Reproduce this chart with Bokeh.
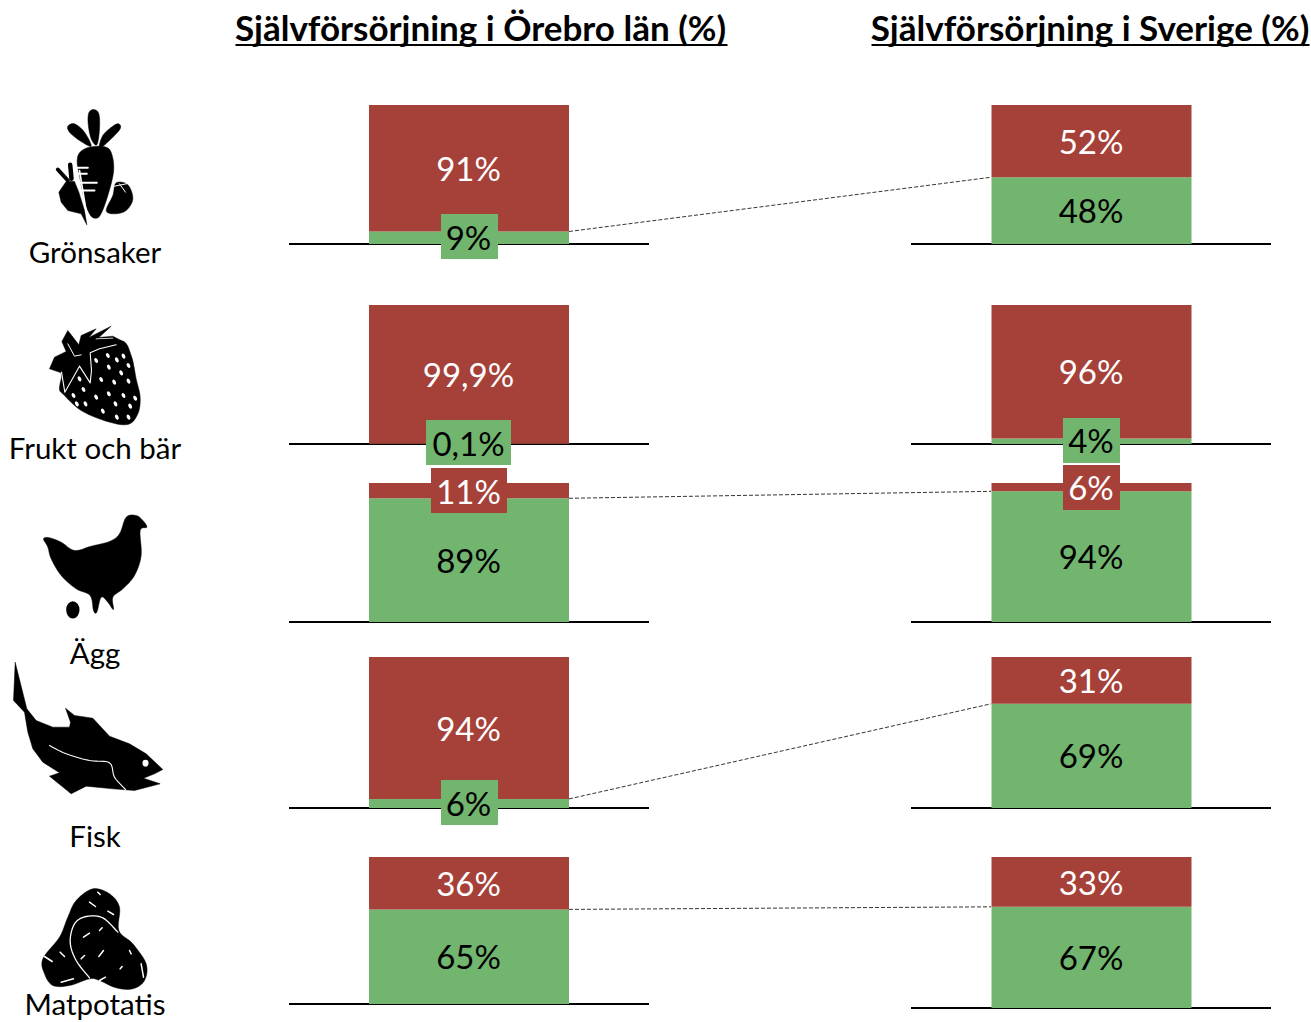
from bokeh.plotting import figure
from bokeh.models import Range1d, ColumnDataSource
from bokeh.core.properties import value
from bokeh.embed import file_html
from bokeh.resources import INLINE

# ---- data ----
categories = ["Grönsaker", "Frukt och bär", "Ägg", "Fisk", "Matpotatis"]
left_title = "Självförsörjning i Örebro län (%)"
right_title = "Självförsörjning i Sverige (%)"
left_green = [9, 0.1, 89, 6, 65]
left_red = [91, 99.9, 11, 94, 36]
right_green = [48, 4, 94, 69, 67]
right_red = [52, 96, 6, 31, 33]
left_green_labels = ["9%", "0,1%", "89%", "6%", "65%"]
left_red_labels = ["91%", "99,9%", "11%", "94%", "36%"]
right_green_labels = ["48%", "4%", "94%", "69%", "67%"]
right_red_labels = ["52%", "96%", "6%", "31%", "33%"]
connected_rows = [0, 2, 3, 4]

# ---- layout (page pixels) ----
W, H = 1311, 1022
X0, Y0 = 0, 0
X1, Y1 = X0 + W, Y0 + H
RED, GREEN = "#A6413A", "#71B56F"
FONT = value("Lato")
tops = [105, 305, 483, 657, 857]
left_bases = [244, 444, 622, 808, 1004]
right_bases = [244, 444, 622, 808, 1008]
left_green_y = [236, 442, 559, 802, 955]
left_red_y = [167, 373, 490, 727, 882]
right_green_y = [209, 439, 555, 754, 956]
right_red_y = [140, 370, 486, 679, 881]
left_boxes = {0: ("g", 441, 498, 214, 259), 1: ("g", 426, 511, 420, 465),
              2: ("r", 431, 507, 468, 513), 3: ("g", 441, 498, 780, 825)}
right_boxes = {1: ("g", 1063, 1120, 418, 463), 2: ("r", 1063, 1120, 465, 510)}
cat_y = [251, 447, 652, 835, 1003]

p = figure(width=W, height=H, output_backend="svg", toolbar_location=None,
           x_range=Range1d(X0, X1), y_range=Range1d(Y1, Y0), min_border=0)
p.xaxis.visible = False
p.yaxis.visible = False
p.grid.visible = False
p.outline_line_color = None
p.background_fill_color = "white"
p.border_fill_color = "white"


def crom(p0, p1, p2, p3, n):
    out = []
    for k in range(n):
        t = k / n
        f = lambda a, b, c, d: 0.5 * (2 * b + (c - a) * t + (2 * a - 5 * b + 4 * c - d) * t * t + (3 * b - a - 3 * c + d) * t ** 3)
        out.append((f(p0[0], p1[0], p2[0], p3[0]), f(p0[1], p1[1], p2[1], p3[1])))
    return out


def smooth(pts, n=6):
    out = []
    m = len(pts)
    for i in range(m):
        out += crom(pts[i - 1], pts[i], pts[(i + 1) % m], pts[(i + 2) % m], n)
    return out


def smooth_open(pts, n=6):
    q = [pts[0]] + list(pts) + [pts[-1]]
    out = []
    for i in range(1, len(q) - 2):
        out += crom(q[i - 1], q[i], q[i + 1], q[i + 2], n)
    return out + [pts[-1]]


def shape(pts, ox, oy, color="black", soft=False):
    q = smooth(pts) if soft else pts
    p.patch([ox + a / 3 for a, b in q], [oy + b / 3 for a, b in q], fill_color=color, line_color=color, line_width=0.5)


def stroke(pts, ox, oy, color="white", w=1.0, soft=False):
    q = smooth_open(pts) if soft else pts
    p.line([ox + a / 3 for a, b in q], [oy + b / 3 for a, b in q], line_color=color, line_width=w, line_cap="round", line_join="round")


def dot(x, y, rx, ry, ox, oy, color="white", angle=0.0):
    p.ellipse(ox + x / 3, oy + y / 3, width=2 * rx / 3, height=2 * ry / 3, angle=angle, fill_color=color, line_color=None)


# --- carrot icon
o = (-1, 95)
shape([(240, 172), (270, 155), (320, 155), (338, 180), (342, 230), (325, 300), (303, 358), (285, 368), (270, 355), (255, 315), (240, 240), (233, 200)], *o, soft=True)
shape([(283, 42), (298, 55), (300, 100), (292, 148), (275, 130), (266, 85), (268, 52)], *o, soft=True)
shape([(205, 92), (225, 85), (255, 110), (275, 152), (240, 135), (210, 110)], *o, soft=True)
shape([(358, 85), (362, 100), (335, 130), (300, 158), (310, 120), (340, 92)], *o, soft=True)
shape([(178, 290), (200, 258), (225, 258), (238, 290), (255, 345), (262, 388), (245, 355), (205, 345), (185, 320)], *o)
stroke([(175, 222), (205, 255)], *o, color="black", w=4)
stroke([(212, 208), (216, 250)], *o, color="black", w=4.5)
shape([(320, 345), (340, 300), (350, 262), (385, 268), (400, 310), (380, 345), (345, 355)], *o, soft=True)
stroke([(232, 217), (265, 217)], *o, w=2)
stroke([(236, 235), (262, 235)], *o, w=2)
stroke([(242, 262), (292, 262)], *o, w=2)
stroke([(248, 285), (285, 285)], *o, w=2)
stroke([(240, 225), (262, 360)], *o, w=1.6)
stroke([(360, 265), (378, 290)], *o, w=1)
stroke([(345, 272), (395, 262)], *o, w=1)

# --- strawberry icon
o = (-1, 315)
shape([(180, 215), (205, 150), (275, 100), (365, 75), (395, 120), (410, 190), (422, 245), (415, 295), (385, 327), (320, 317), (245, 285), (195, 240)], *o, soft=True)
shape([(150, 160), (165, 125), (200, 108), (187, 78), (205, 45), (238, 88), (245, 60), (290, 40), (268, 66), (335, 32), (298, 66), (340, 62), (365, 75), (330, 92), (272, 110), (275, 170), (272, 200), (240, 152), (192, 228), (185, 172)], *o)
stroke([(350, 88), (300, 100), (272, 112), (276, 165), (272, 202), (240, 152), (196, 230), (186, 170)], *o, w=1.1)
stroke([(205, 85), (225, 122), (245, 118)], *o, w=1)
stroke([(290, 70), (340, 68)], *o, w=0.8)
seeds_pos = [(290, 135), (325, 120), (352, 133), (372, 122), (387, 150), (328, 155), (365, 172), (305, 192), (344, 200), (387, 197), (252, 222), (290, 245), (328, 235), (372, 240), (407, 248), (222, 240), (232, 265), (258, 265), (348, 265), (392, 272), (310, 287), (352, 305), (387, 305), (240, 190)]
for x, y in seeds_pos:
    dot(x, y, 5, 8, *o, angle=0.5)

# --- hen icon
o = (19, 505)
shape([(72, 100), (90, 97), (125, 110), (165, 135), (215, 122), (270, 108), (300, 85), (320, 35), (350, 30), (370, 45), (382, 65), (362, 75), (365, 150), (345, 210), (310, 250), (280, 275), (282, 312), (265, 290), (245, 275), (232, 320), (222, 315), (212, 270), (170, 250), (125, 210), (95, 160), (85, 125)], *o, soft=True)
dot(160, 313, 20, 26, *o, color="black")

# --- fish icon
o = (-1, 655)
shape([(47, 20), (82, 160), (110, 195), (160, 215), (210, 215), (213, 200), (198, 158), (225, 180), (280, 188), (330, 242), (390, 265), (440, 295), (490, 342), (465, 355), (432, 368), (482, 385), (405, 405), (340, 400), (260, 392), (215, 415), (150, 362), (180, 352), (130, 320), (100, 280), (85, 230), (75, 170), (42, 135)], *o)
dot(438, 323, 9, 10, *o)
stroke([(150, 270), (200, 295), (270, 315), (330, 322), (345, 365), (378, 402)], *o, w=1.1, soft=True)

# --- potato icon
o = (9, 880)
shape([(200, 60), (250, 25), (300, 40), (330, 80), (328, 150), (370, 190), (410, 250), (405, 300), (370, 325), (320, 322), (270, 300), (240, 295), (180, 315), (130, 315), (105, 280), (100, 235), (150, 170), (175, 110)], *o, soft=True)
stroke([(240, 292), (200, 240), (182, 185), (195, 130), (230, 108), (280, 112), (325, 155)], *o, w=1.3, soft=True)
dashes = [[(240, 65), (258, 78)], [(265, 35), (272, 42)], [(295, 92), (312, 102)], [(105, 228), (128, 243)], [(152, 215), (165, 228)], [(155, 305), (192, 295)], [(222, 170), (240, 158)], [(270, 150), (278, 142)], [(268, 228), (282, 210)], [(215, 235), (225, 225)], [(332, 265), (338, 258)], [(395, 250), (402, 290)], [(270, 300), (288, 290)], [(360, 210), (365, 220)]]
for d in dashes:
    stroke(d, *o, w=1.5)


def panel(side, x, bases, greens, reds, green_labels, red_labels, green_y, red_y, boxes, lx0, lx1):
    for i in range(len(categories)):
        total = greens[i] + reds[i]
        s = (bases[i] - tops[i]) / total
        name = f"{side}{i}"
        p.extra_y_ranges[name] = Range1d((bases[i] - 0.5 - Y1) / s, (bases[i] - 0.5 - Y0) / s)
        p.line([lx0 - 0.5, lx1 - 0.5], [bases[i] - 0.5, bases[i] - 0.5], line_color="black", line_width=2)
        src = ColumnDataSource(dict(x=[x - 0.5], g=[greens[i]], t=[total]))
        p.vbar(x="x", width=200, bottom=0, top="g", source=src, y_range_name=name, fill_color=GREEN, line_color=None)
        p.vbar(x="x", width=200, bottom="g", top="t", source=src, y_range_name=name, fill_color=RED, line_color=None)
        if i in boxes:
            c, a, b, t, u = boxes[i]
            p.quad(left=a - 0.5, right=b - 0.5, top=t - 0.5, bottom=u - 0.5, fill_color=GREEN if c == "g" else RED, line_color=None)
    p.text(x=[x - 1] * 5, y=green_y, text=green_labels, text_font=FONT, text_font_size="33px", text_color="black", text_align="center", text_baseline="middle")
    p.text(x=[x - 1] * 5, y=red_y, text=red_labels, text_font=FONT, text_font_size="33px", text_color="white", text_align="center", text_baseline="middle")


panel("L", 469, left_bases, left_green, left_red, left_green_labels, left_red_labels, left_green_y, left_red_y, left_boxes, 289, 649)
panel("R", 1091.5, right_bases, right_green, right_red, right_green_labels, right_red_labels, right_green_y, right_red_y, right_boxes, 911, 1271)

# connectors between the top of the green segments
for i in connected_rows:
    yl = left_bases[i] - left_green[i] * (left_bases[i] - tops[i]) / (left_green[i] + left_red[i])
    yr = right_bases[i] - right_green[i] * (right_bases[i] - tops[i]) / (right_green[i] + right_red[i])
    p.line([568.5, 990.5], [yl - 0.5, yr - 0.5], line_color="black", line_width=0.8, line_dash="4 2")

# titles
p.text(x=[480], y=[26], text=[left_title], text_font=FONT, text_font_style="bold", text_font_size="35px", text_align="center", text_baseline="middle", text_color="black")
p.text(x=[1089.5], y=[26], text=[right_title], text_font=FONT, text_font_style="bold", text_font_size="35px", text_align="center", text_baseline="middle", text_color="black")
p.line([235, 727], [44.5, 44.5], line_color="black", line_width=2)
p.line([871, 1309], [44.5, 44.5], line_color="black", line_width=2)

# category names
p.text(x=[94.5] * 5, y=cat_y, text=categories, text_font=FONT, text_font_size="29.5px", text_align="center", text_baseline="middle", text_color="black")

open("out.html", "w").write(file_html(p, INLINE))
